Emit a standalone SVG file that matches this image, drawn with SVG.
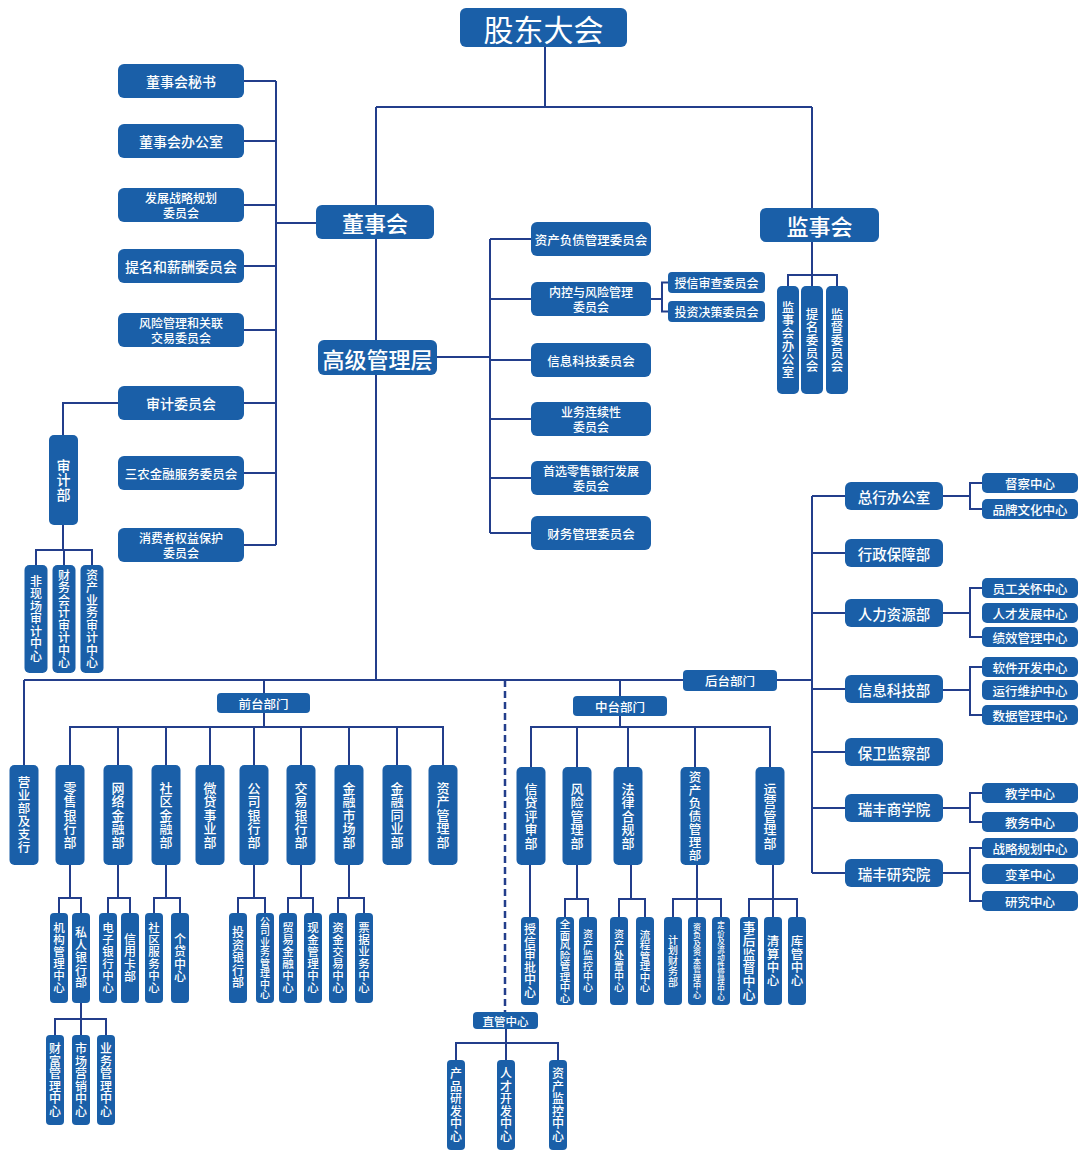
<svg xmlns="http://www.w3.org/2000/svg" width="1081" height="1153" viewBox="0 0 1081 1153">
<style>
.b{fill:#1a5fa8}
text{fill:#fff;font-family:"Noto Sans CJK SC","Noto Sans CJK JP",sans-serif;text-anchor:middle;dominant-baseline:central;font-weight:500}
.v{writing-mode:vertical-rl;letter-spacing:0.5px}
.l{fill:none;stroke:#233e8b;stroke-width:2}
.d{stroke-dasharray:7 4;stroke-width:2.5}
.f30{font-size:30px;font-weight:400}.f22{font-size:22px}.f145{font-size:14.5px}.f14{font-size:14px}.f13{font-size:13px}.f125{font-size:12.5px}.f12{font-size:12px}.f115{font-size:11.5px}.f105{font-size:10.5px;letter-spacing:0}.f10{font-size:10px}.f8{font-size:8px}.f75{font-size:7.5px}
</style>
<rect width="1081" height="1153" fill="#fff"/>
<g id="connectors" class="l">
<path d="M545 47V107M376 107H812M376 107V205M812 107V208"/>
<path d="M276 81V545M244 81H276M244 141H276M244 205H276M244 266H276M244 330H276M244 403H276M244 473H276M244 545H276M276 223H316"/>
<path d="M118 403H63V435M63 525V550M36 565V550H92V565M64 550V565"/>
<path d="M376 239V340M376 375V680M437 357H490M490 239V533M490 239H531M490 299H531M490 360H531M490 419H531M490 478H531M490 533H531"/>
<path d="M651 299H662M668 282.5H662V311.5H668"/>
<path d="M812 242V286M788 286V275H837V286"/>
<path d="M24 680H812M24 680V765"/>
<path d="M264 680V693M264 713V727M70 765V727H443V765M118 727V765M166 727V765M210 727V765M254 727V765M301 727V765M349 727V765M397 727V765"/>
<path d="M70 865V898M59 913V898H81V913M118 865V898M108 913V898H130V913M166 865V898M154 913V898H180V913M254 865V898M238 913V898H265V913M301 865V898M288 913V898H313V913M349 865V898M338 913V898H364V913"/>
<path d="M81 1003V1035M55 1035V1019H106V1035"/>
<path d="M620 680V696M620 716V727M531 767V727H770V767M577 727V767M628 727V767M695 727V767"/>
<path d="M530 865V917M577 865V899M565 917V899H588V917M631 865V899M619 917V899H645V917M697 865V917M673 917V899H721V917M773 865V917M749 917V899H797V917"/>
<path class="d" d="M505 680V1012"/>
<path d="M506 1029V1060M456 1060V1043H558V1060"/>
<path d="M812 496V873M812 496H845M812 553H845M812 613H845M812 689H845M812 752H845M812 808H845M812 873H845"/>
<path d="M943 496H970M982 483H970V509H982M943 613H970M982 588H970V637H982M943 690H970M982 667H970V715H982M943 808H970M982 793H970V822H982M943 873H970M982 848H970V901H982"/>
</g>
<g id="gudongdahui"><rect class="b" x="460" y="8" width="167" height="39" rx="6"/><text class="f30" x="543.5" y="27.5">股东大会</text></g>
<g id="dongshihui"><rect class="b" x="316" y="205" width="118" height="34" rx="6"/><text class="f22" x="375" y="222">董事会</text></g>
<g id="jianshihui"><rect class="b" x="760" y="208" width="119" height="34" rx="6"/><text class="f22" x="819.5" y="225">监事会</text></g>
<g id="gaoguan"><rect class="b" x="318" y="340" width="119" height="35" rx="6"/><text class="f22" x="377.5" y="357.5">高级管理层</text></g>

<g id="ds-mishu"><rect class="b" x="118" y="64" width="126" height="34" rx="6"/><text class="f14" x="181" y="81">董事会秘书</text></g>
<g id="ds-bangongshi"><rect class="b" x="118" y="124" width="126" height="34" rx="6"/><text class="f14" x="181" y="141">董事会办公室</text></g>
<g id="ds-zhanlue"><rect class="b" x="118" y="188" width="126" height="34" rx="6"/><text class="f12" x="181" y="197.5">发展战略规划</text><text class="f12" x="181" y="212.5">委员会</text></g>
<g id="ds-timing"><rect class="b" x="118" y="249" width="126" height="34" rx="6"/><text class="f14" x="181" y="266">提名和薪酬委员会</text></g>
<g id="ds-fengxian"><rect class="b" x="118" y="313" width="126" height="34" rx="6"/><text class="f12" x="181" y="322.5">风险管理和关联</text><text class="f12" x="181" y="337.5">交易委员会</text></g>
<g id="ds-shenji"><rect class="b" x="118" y="386" width="126" height="34" rx="6"/><text class="f14" x="181" y="403">审计委员会</text></g>
<g id="ds-sannong"><rect class="b" x="118" y="456" width="126" height="34" rx="6"/><text class="f125" x="181" y="473">三农金融服务委员会</text></g>
<g id="ds-xiaobao"><rect class="b" x="118" y="528" width="126" height="34" rx="6"/><text class="f12" x="181" y="537.5">消费者权益保护</text><text class="f12" x="181" y="552.5">委员会</text></g>

<g id="shenjibu"><rect class="b" x="49" y="435" width="29" height="90" rx="5"/><text class="v f14" x="63.5" y="480">审计部</text></g>
<g id="sj-feixianchang"><rect class="b" x="24.5" y="565" width="23" height="108" rx="5"/><text class="v f12" x="36" y="619">非现场审计中心</text></g>
<g id="sj-caiwu"><rect class="b" x="52.5" y="565" width="23" height="108" rx="5"/><text class="v f12" x="64" y="619">财务会计审计中心</text></g>
<g id="sj-zichan"><rect class="b" x="80.5" y="565" width="23" height="108" rx="5"/><text class="v f12" x="92" y="619">资产业务审计中心</text></g>

<g id="gg-zichanfuzhai"><rect class="b" x="531" y="222" width="120" height="34" rx="6"/><text class="f125" x="591" y="239">资产负债管理委员会</text></g>
<g id="gg-neikong"><rect class="b" x="531" y="282" width="120" height="34" rx="6"/><text class="f12" x="591" y="291.5">内控与风险管理</text><text class="f12" x="591" y="306.5">委员会</text></g>
<g id="gg-xinxi"><rect class="b" x="531" y="343" width="120" height="34" rx="6"/><text class="f125" x="591" y="360">信息科技委员会</text></g>
<g id="gg-lianxuxing"><rect class="b" x="531" y="402" width="120" height="34" rx="6"/><text class="f12" x="591" y="411.5">业务连续性</text><text class="f12" x="591" y="426.5">委员会</text></g>
<g id="gg-shouxuan"><rect class="b" x="531" y="461" width="120" height="34" rx="6"/><text class="f12" x="591" y="470.5">首选零售银行发展</text><text class="f12" x="591" y="485.5">委员会</text></g>
<g id="gg-caiwu"><rect class="b" x="531" y="516" width="120" height="34" rx="6"/><text class="f125" x="591" y="533">财务管理委员会</text></g>
<g id="gg-shouxin"><rect class="b" x="668" y="272" width="97" height="21" rx="4"/><text class="f12" x="716.5" y="282.5">授信审查委员会</text></g>
<g id="gg-touzi"><rect class="b" x="668" y="301" width="97" height="21" rx="4"/><text class="f12" x="716.5" y="311.5">投资决策委员会</text></g>

<g id="js-bangongshi"><rect class="b" x="777" y="286" width="22" height="108" rx="5"/><text class="v f125" x="788" y="340">监事会办公室</text></g>
<g id="js-timing"><rect class="b" x="801" y="286" width="22" height="108" rx="5"/><text class="v f125" x="812" y="340">提名委员会</text></g>
<g id="js-jiandu"><rect class="b" x="826" y="286" width="22" height="108" rx="5"/><text class="v f125" x="837" y="340">监督委员会</text></g>

<g id="qiantai"><rect class="b" x="217" y="693" width="93" height="20" rx="4"/><text class="f125" x="263.5" y="703">前台部门</text></g>
<g id="zhongtai"><rect class="b" x="573" y="696" width="94" height="20" rx="4"/><text class="f125" x="620" y="706">中台部门</text></g>
<g id="houtai"><rect class="b" x="683" y="670" width="94" height="21" rx="4"/><text class="f125" x="730" y="680.5">后台部门</text></g>

<g id="yingyebu"><rect class="b" x="9.5" y="765" width="29" height="100" rx="5"/><text class="v f125" x="24" y="815">营业部及支行</text></g>
<g id="lingshou"><rect class="b" x="55.5" y="765" width="29" height="100" rx="5"/><text class="v f13" x="70" y="815">零售银行部</text></g>
<g id="wangluo"><rect class="b" x="103.5" y="765" width="29" height="100" rx="5"/><text class="v f13" x="118" y="815">网络金融部</text></g>
<g id="shequ"><rect class="b" x="151.5" y="765" width="29" height="100" rx="5"/><text class="v f13" x="166" y="815">社区金融部</text></g>
<g id="weidai"><rect class="b" x="195.5" y="765" width="29" height="100" rx="5"/><text class="v f13" x="210" y="815">微贷事业部</text></g>
<g id="gongsi"><rect class="b" x="239.5" y="765" width="29" height="100" rx="5"/><text class="v f13" x="254" y="815">公司银行部</text></g>
<g id="jiaoyi"><rect class="b" x="286.5" y="765" width="29" height="100" rx="5"/><text class="v f13" x="301" y="815">交易银行部</text></g>
<g id="shichang"><rect class="b" x="334.5" y="765" width="29" height="100" rx="5"/><text class="v f13" x="349" y="815">金融市场部</text></g>
<g id="tongye"><rect class="b" x="382.5" y="765" width="29" height="100" rx="5"/><text class="v f13" x="397" y="815">金融同业部</text></g>
<g id="zichanguanli"><rect class="b" x="428.5" y="765" width="29" height="100" rx="5"/><text class="v f13" x="443" y="815">资产管理部</text></g>

<g id="jigou"><rect class="b" x="50" y="913" width="18" height="90" rx="4"/><text class="v f115" x="59" y="958">机构管理中心</text></g>
<g id="siren"><rect class="b" x="72" y="913" width="18" height="90" rx="4"/><text class="v f12" x="81" y="958">私人银行部</text></g>
<g id="dianzi"><rect class="b" x="99" y="913" width="18" height="90" rx="4"/><text class="v f115" x="108" y="958">电子银行中心</text></g>
<g id="xinyongka"><rect class="b" x="121" y="913" width="18" height="90" rx="4"/><text class="v f12" x="130" y="958">信用卡部</text></g>
<g id="shequfuwu"><rect class="b" x="145" y="913" width="18" height="90" rx="4"/><text class="v f115" x="154" y="958">社区服务中心</text></g>
<g id="gedai"><rect class="b" x="171" y="913" width="18" height="90" rx="4"/><text class="v f12" x="180" y="958">个贷中心</text></g>
<g id="touhang"><rect class="b" x="229" y="913" width="18" height="90" rx="4"/><text class="v f12" x="238" y="958">投资银行部</text></g>
<g id="gongsiyewu"><rect class="b" x="256" y="913" width="18" height="90" rx="4"/><text class="v f10" x="265" y="958">公司业务管理中心</text></g>
<g id="maoyi"><rect class="b" x="279" y="913" width="18" height="90" rx="4"/><text class="v f115" x="288" y="958">贸易金融中心</text></g>
<g id="xianjin"><rect class="b" x="304" y="913" width="18" height="90" rx="4"/><text class="v f115" x="313" y="958">现金管理中心</text></g>
<g id="zijin"><rect class="b" x="329" y="913" width="18" height="90" rx="4"/><text class="v f115" x="338" y="958">资金交易中心</text></g>
<g id="piaoju"><rect class="b" x="355" y="913" width="18" height="90" rx="4"/><text class="v f115" x="364" y="958">票据业务中心</text></g>

<g id="caifu"><rect class="b" x="46" y="1035" width="18" height="90" rx="4"/><text class="v f12" x="55" y="1080">财富管理中心</text></g>
<g id="yingxiao"><rect class="b" x="72" y="1035" width="18" height="90" rx="4"/><text class="v f12" x="81" y="1080">市场营销中心</text></g>
<g id="yewuguanli"><rect class="b" x="97" y="1035" width="18" height="90" rx="4"/><text class="v f12" x="106" y="1080">业务管理中心</text></g>

<g id="xindai"><rect class="b" x="516.5" y="767" width="29" height="98" rx="5"/><text class="v f13" x="531" y="816">信贷评审部</text></g>
<g id="fengxianbu"><rect class="b" x="562.5" y="767" width="29" height="98" rx="5"/><text class="v f13" x="577" y="816">风险管理部</text></g>
<g id="falv"><rect class="b" x="613.5" y="767" width="29" height="98" rx="5"/><text class="v f13" x="628" y="816">法律合规部</text></g>
<g id="zichanfuzhaibu"><rect class="b" x="680.5" y="767" width="29" height="98" rx="5"/><text class="v f125" x="695" y="816">资产负债管理部</text></g>
<g id="yunying"><rect class="b" x="755.5" y="767" width="29" height="98" rx="5"/><text class="v f13" x="770" y="816">运营管理部</text></g>

<g id="shouxinshenpi"><rect class="b" x="521" y="917" width="18" height="88" rx="4"/><text class="v f12" x="530" y="961">授信审批中心</text></g>
<g id="quanmian"><rect class="b" x="556" y="917" width="18" height="88" rx="4"/><text class="v f105" x="565" y="961">全面风险管理中心</text></g>
<g id="zichanjiankong1"><rect class="b" x="579" y="917" width="18" height="88" rx="4"/><text class="v f10" x="588" y="961">资产监控中心</text></g>
<g id="zichanchuzhi"><rect class="b" x="610" y="917" width="18" height="88" rx="4"/><text class="v f10" x="619" y="961">资产处置中心</text></g>
<g id="liucheng"><rect class="b" x="636" y="917" width="18" height="88" rx="4"/><text class="v f105" x="645" y="961">流程管理中心</text></g>
<g id="jihuacaiwu"><rect class="b" x="664" y="917" width="18" height="88" rx="4"/><text class="v f10" x="673" y="961">计划财务部</text></g>
<g id="zifu"><rect class="b" x="688" y="917" width="18" height="88" rx="4"/><text class="v f8" x="697" y="961">资负及资本管理中心</text></g>
<g id="dingjia"><rect class="b" x="712" y="917" width="18" height="88" rx="4"/><text class="v f75" x="721" y="961">定价及流动性管理中心</text></g>
<g id="shihou"><rect class="b" x="740" y="917" width="18" height="88" rx="4"/><text class="v f13" x="749" y="961">事后监督中心</text></g>
<g id="qingsuan"><rect class="b" x="764" y="917" width="18" height="88" rx="4"/><text class="v f125" x="773" y="961">清算中心</text></g>
<g id="kuguan"><rect class="b" x="788" y="917" width="18" height="88" rx="4"/><text class="v f125" x="797" y="961">库管中心</text></g>

<g id="zhiguan"><rect class="b" x="473" y="1012" width="65" height="17" rx="4"/><text class="f115" x="505.5" y="1020.5">直管中心</text></g>
<g id="chanpin"><rect class="b" x="447" y="1060" width="18" height="90" rx="4"/><text class="v f12" x="456" y="1105">产品研发中心</text></g>
<g id="rencai"><rect class="b" x="497" y="1060" width="18" height="90" rx="4"/><text class="v f12" x="506" y="1105">人才开发中心</text></g>
<g id="zichanjiankong2"><rect class="b" x="549" y="1060" width="18" height="90" rx="4"/><text class="v f12" x="558" y="1105">资产监控中心</text></g>

<g id="zonghang"><rect class="b" x="845" y="482" width="98" height="28" rx="6"/><text class="f145" x="894" y="496">总行办公室</text></g>
<g id="xingzheng"><rect class="b" x="845" y="539" width="98" height="28" rx="6"/><text class="f145" x="894" y="553">行政保障部</text></g>
<g id="renli"><rect class="b" x="845" y="599" width="98" height="28" rx="6"/><text class="f145" x="894" y="613">人力资源部</text></g>
<g id="xinxikeji"><rect class="b" x="845" y="675" width="98" height="28" rx="6"/><text class="f145" x="894" y="689">信息科技部</text></g>
<g id="baowei"><rect class="b" x="845" y="738" width="98" height="28" rx="6"/><text class="f145" x="894" y="752">保卫监察部</text></g>
<g id="shangxueyuan"><rect class="b" x="845" y="794" width="98" height="28" rx="6"/><text class="f145" x="894" y="808">瑞丰商学院</text></g>
<g id="yanjiuyuan"><rect class="b" x="845" y="859" width="98" height="28" rx="6"/><text class="f145" x="894" y="873">瑞丰研究院</text></g>

<g id="ducha"><rect class="b" x="982" y="473" width="96" height="20" rx="5"/><text class="f125" x="1030" y="483">督察中心</text></g>
<g id="pinpai"><rect class="b" x="982" y="499" width="96" height="20" rx="5"/><text class="f125" x="1030" y="509">品牌文化中心</text></g>
<g id="yuangong"><rect class="b" x="982" y="578" width="96" height="20" rx="5"/><text class="f125" x="1030" y="588">员工关怀中心</text></g>
<g id="rencaifazhan"><rect class="b" x="982" y="603" width="96" height="20" rx="5"/><text class="f125" x="1030" y="613">人才发展中心</text></g>
<g id="jixiao"><rect class="b" x="982" y="627" width="96" height="20" rx="5"/><text class="f125" x="1030" y="637">绩效管理中心</text></g>
<g id="ruanjian"><rect class="b" x="982" y="657" width="96" height="20" rx="5"/><text class="f125" x="1030" y="667">软件开发中心</text></g>
<g id="yunxing"><rect class="b" x="982" y="680" width="96" height="20" rx="5"/><text class="f125" x="1030" y="690">运行维护中心</text></g>
<g id="shuju"><rect class="b" x="982" y="705" width="96" height="20" rx="5"/><text class="f125" x="1030" y="715">数据管理中心</text></g>
<g id="jiaoxue"><rect class="b" x="982" y="783" width="96" height="20" rx="5"/><text class="f125" x="1030" y="793">教学中心</text></g>
<g id="jiaowu"><rect class="b" x="982" y="812" width="96" height="20" rx="5"/><text class="f125" x="1030" y="822">教务中心</text></g>
<g id="zhanlueguihua"><rect class="b" x="982" y="838" width="96" height="20" rx="5"/><text class="f125" x="1030" y="848">战略规划中心</text></g>
<g id="biange"><rect class="b" x="982" y="864" width="96" height="20" rx="5"/><text class="f125" x="1030" y="874">变革中心</text></g>
<g id="yanjiu"><rect class="b" x="982" y="891" width="96" height="20" rx="5"/><text class="f125" x="1030" y="901">研究中心</text></g>
</svg>
